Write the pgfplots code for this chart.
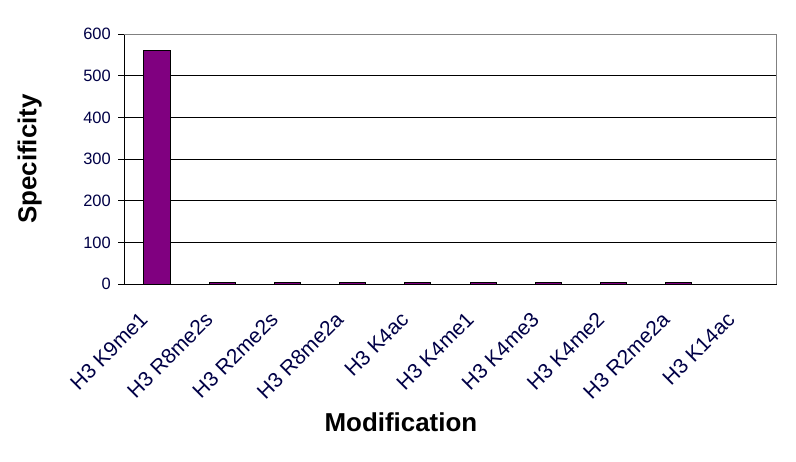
\documentclass[border=0pt]{standalone}
\usepackage{fontspec}
\setmainfont{Liberation Sans}
\usepackage{pgfplots}
\pgfplotsset{compat=1.18}
\definecolor{barpurple}{RGB}{128,0,128}
\definecolor{ticknavy}{RGB}{0,0,70}
\definecolor{framegray}{RGB}{128,128,128}

\begin{document}
\begin{tikzpicture}
\begin{axis}[
  scale only axis,
  width=652bp, height=250bp,
  xmin=-0.5, xmax=9.5,
  ymin=0, ymax=600,
  ytick={0,100,...,600},
  xtick={0,...,9},
  xticklabels={H3 K9me1,H3 R8me2s,H3 R2me2s,H3 R8me2a,H3 K4ac,H3 K4me1,H3 K4me3,H3 K4me2,H3 R2me2a,H3 K14ac},
  axis x line*=bottom,
  axis y line*=left,
  axis line style={black, line width=0.9bp, -},
  x tick style={draw=none},
  y tick style={black, line width=0.9bp},
  tick align=outside,
  major tick length=6bp,
  extra x ticks={-0.5,0.5,...,9.5},
  extra x tick labels={},
  extra x tick style={grid=none, tick style={draw=black, line width=0.9bp}, major tick length=6bp},
  ymajorgrids=true,
  grid style={black, line width=0.8bp},
  /pgf/number format/assume math mode=true,
  yticklabel style={font=\fontsize{16.5}{18}\selectfont, text=ticknavy, xshift=-4bp},
  xticklabel style={font=\fontsize{21}{23}\selectfont, text=ticknavy, rotate=45, anchor=east, xshift=-24bp, yshift=-9bp},
  xlabel={\textbf{Modification}},
  ylabel={\textbf{Specificity}},
  label style={font=\fontsize{26}{28}\selectfont},
  xlabel style={at={(rel axis cs:0.424,-0.552)}, anchor=center},
  ylabel style={at={(rel axis cs:-0.145,0.5)}, anchor=center, rotate=0},
  clip=false,
]
\addplot[ybar, bar width=26bp, fill=barpurple, draw=black, line width=0.8bp]
  coordinates {(0,560) (1,4) (2,4) (3,4) (4,4) (5,4) (6,4) (7,4) (8,4) (9,0)};
\draw[framegray, line width=0.9bp] (rel axis cs:0,1) -- (rel axis cs:1,1) -- (rel axis cs:1,0);
\path (rel axis cs:-0.1905,-0.708) rectangle (rel axis cs:1.0296,1.136);
\end{axis}
\end{tikzpicture}
\end{document}
